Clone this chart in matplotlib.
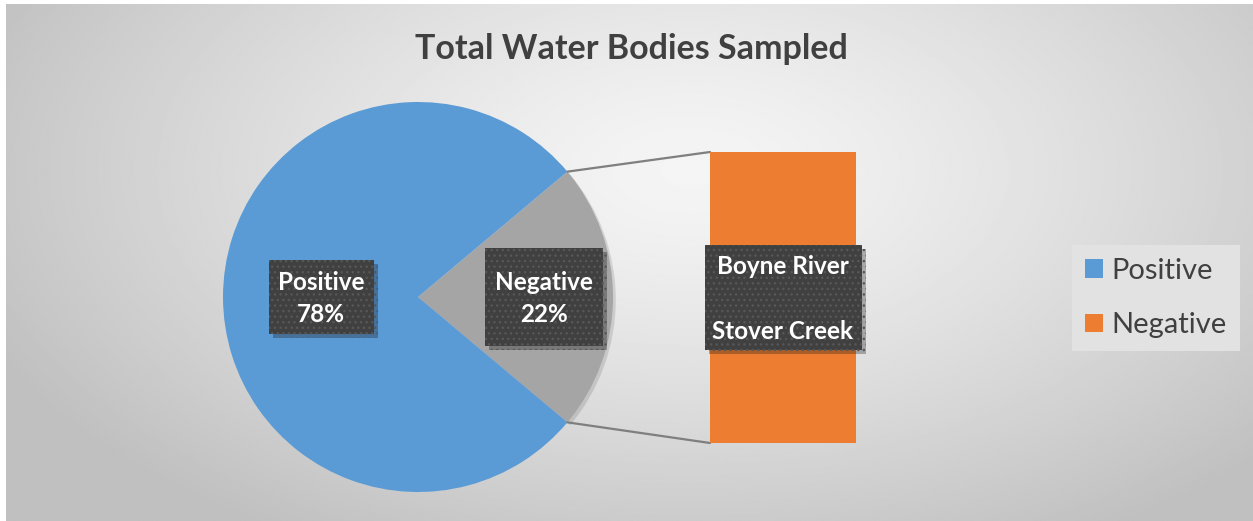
import numpy as np
import matplotlib
matplotlib.use('Agg')
import matplotlib.pyplot as plt
from matplotlib.patches import Rectangle, ConnectionPatch, Patch
import matplotlib.patheffects as pe

# chart data
pie_labels = ['Negative', 'Positive']
pie_counts = [2, 7]
bar_labels = ['Stover Creek', 'Boyne River']   # bottom to top
bar_counts = [1, 1]
legend_labels = ['Positive', 'Negative']
title = 'Total Water Bodies Sampled'

BLUE = '#5B9BD5'
GRAY = '#A5A5A5'
ORANGE = '#ED7D31'
DARK = '#404040'

W, H = 1253, 521
plt.rcParams['font.family'] = ['Lato', 'DejaVu Sans']

fig = plt.figure(figsize=(W / 100, H / 100), dpi=100, facecolor='white')
# background axes in pixel coordinates (y down)
ax = fig.add_axes([0, 0, 1, 1], zorder=0)

# radial gradient background
gx, gy = np.meshgrid(np.linspace(6, W, 600), np.linspace(4, H, 260))
r = np.sqrt(((gx - 690) / 780) ** 2 + ((gy - 170) / 430) ** 2)
r = np.clip(r, 0, 1)
shade = 0.96 - (0.96 - 0.75) * r ** 1.3
ax.imshow(shade, cmap='gray', vmin=0, vmax=1, extent=(6, W, H, 4),
          aspect='auto', zorder=0, interpolation='bilinear')

# pie
total = sum(pie_counts)
start = -180 * pie_counts[0] / total
pie_c = (418, 297)
pie_r = 195
wedges, _ = ax.pie(pie_counts, colors=[GRAY, BLUE], startangle=start,
                   center=pie_c, radius=pie_r, frame=True,
                   wedgeprops=dict(linewidth=0, zorder=2))
wedges[0].set_path_effects([pe.SimplePatchShadow(offset=(2, -2), alpha=0.15), pe.Normal()])

ax.set_xlim(0, W)
ax.set_ylim(H, 0)
ax.set_aspect('auto')
ax.axis('off')

# bar of the split slice
bx = fig.add_axes([710 / W, (H - 443) / H, 146 / W, 291 / H], zorder=1)
bottoms = np.cumsum([0] + bar_counts[:-1])
bx.bar([0] * len(bar_counts), bar_counts, width=1, bottom=bottoms,
       color=ORANGE, linewidth=0)
bx.set_xlim(-0.5, 0.5)
bx.set_ylim(0, sum(bar_counts))
bx.axis('off')

# top layer for labels, title, legend
top = fig.add_axes([0, 0, 1, 1], zorder=2)
top.set_xlim(0, W)
top.set_ylim(H, 0)
top.axis('off')

# connector lines
gw = wedges[0]
for th, yb in [(gw.theta1, sum(bar_counts)), (gw.theta2, 0)]:
    p = (pie_c[0] + pie_r * np.cos(np.radians(th)),
         pie_c[1] + pie_r * np.sin(np.radians(th)))
    con = ConnectionPatch(xyA=p, coordsA=ax.transData, xyB=(-0.5, yb),
                          coordsB=bx.transData, color='#7F7F7F', lw=1.6)
    fig.add_artist(con)


def label_box(cx, cy, w, h, text):
    top.add_patch(Rectangle((cx - w / 2, cy - h / 2), w, h, facecolor=DARK,
                            edgecolor='#575757', hatch='...', lw=0, zorder=5,
                            path_effects=[pe.SimplePatchShadow(offset=(3, -3), alpha=0.3),
                                          pe.Normal()]))
    top.text(cx, cy + 1.5, text, color='white', fontweight='bold', fontsize=17.5,
             ha='center', va='center', zorder=6, linespacing=1.5)


# pie data labels
for w, lab, cnt, frac, size in zip(wedges, pie_labels, pie_counts,
                                   [0.646, 0.497], [(118, 98), (105, 74)]):
    mid = np.radians((w.theta1 + w.theta2) / 2)
    cx = pie_c[0] + frac * pie_r * np.cos(mid)
    cy = pie_c[1] + frac * pie_r * np.sin(mid)
    label_box(cx, cy, size[0], size[1], f'{lab}\n{round(100 * cnt / total)}%')

# bar data labels (stacked into one box at the bar middle)
disp = bx.transData.transform((0, sum(bar_counts) / 2))
bcx, bcy = top.transData.inverted().transform(disp)
label_box(bcx, bcy, 157, 105, '\n\n'.join(bar_labels[::-1]))

# title
top.text(631, 49, title, fontsize=24.5, fontweight='bold', color=DARK,
         ha='center', va='center')

# legend
handles = [Patch(facecolor=BLUE), Patch(facecolor=ORANGE)]
leg = top.legend(handles, legend_labels, loc='center',
                 bbox_to_anchor=(1156 / W, 1 - 298 / H), bbox_transform=fig.transFigure,
                 fontsize=21, frameon=True, facecolor='#E2E2E2', edgecolor='none',
                 framealpha=1, fancybox=False, handlelength=0.62, handleheight=0.62,
                 handletextpad=0.3, labelspacing=0.98, borderpad=0.45)
for t in leg.get_texts():
    t.set_color(DARK)

fig.savefig('out.png', dpi=100, facecolor='white')
